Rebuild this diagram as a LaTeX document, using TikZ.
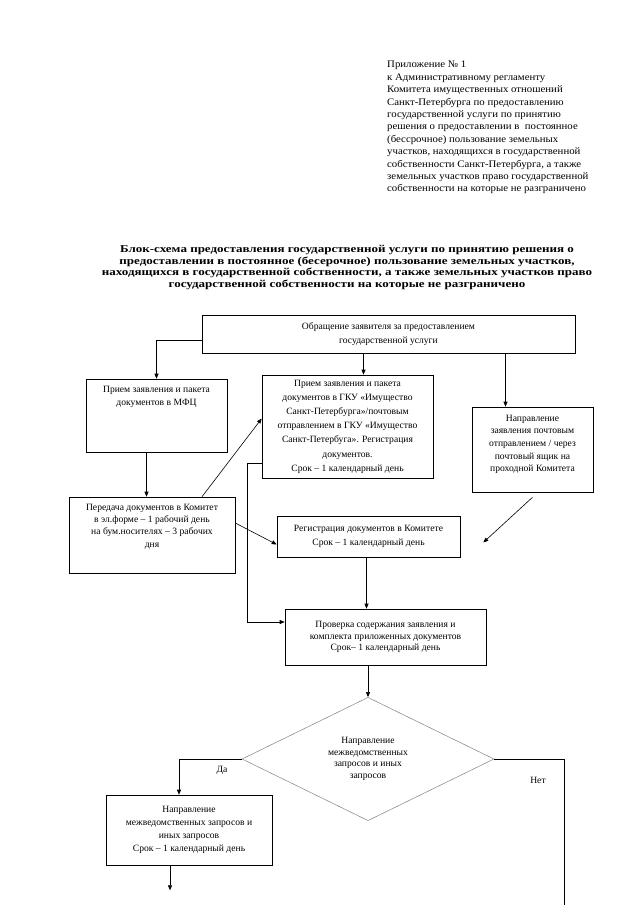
\documentclass[tikz,border=0pt]{standalone}
\usepackage{fontspec}
\setmainfont{Liberation Serif}
\newfontfamily\hdrfont[FakeStretch=1.08]{Liberation Serif}
\newfontfamily\ttlfont[FakeStretch=1.24]{Liberation Serif}
\usetikzlibrary{arrows.meta,shapes.geometric,calc}

% box with its text set from the top
\newcommand{\celltop}[4]{\parbox[c][#2][t]{#1}{\centering\vspace*{#3}#4}}

\begin{document}
\begin{tikzpicture}[x=1pt,y=1pt,
  blk/.style={draw, line width=0.6pt, inner sep=0pt, align=center, font=\fontsize{9.6}{#1}\selectfont},
  blk/.default=13.5,
  arr/.style={-{Triangle[length=5pt,width=4pt]}, line width=0.6pt},
  lin/.style={line width=0.6pt}]
\useasboundingbox (0,0) rectangle (640,-905);

% heading
\node [anchor=north west, align=left, inner sep=0pt, font=\hdrfont\fontsize{10}{12.4}\selectfont] (app) at (387,-61) {Приложение № 1\\
к Административному регламенту\\
Комитета имущественных отношений\\
Санкт-Петербурга по предоставлению\\
государственной услуги по принятию\\
решения о предоставлении в \ постоянное\\
(бессрочное) пользование земельных\\
участков, находящихся в государственной\\
собственности Санкт-Петербурга, а также\\
земельных участков право государственной\\
собственности на которые не разграничено};
\node [anchor=north, align=center, inner sep=0pt, font=\ttlfont\fontsize{10.5}{11.7}\selectfont\bfseries] (title) at (347,-245) {Блок-схема предоставления государственной услуги по принятию решения о\\
предоставлении в постоянное (бесерочное) пользование земельных участков,\\
находящихся в государственной собственности, а также земельных участков право\\
государственной собственности на которые не разграничено};

% boxes
\node [blk=13.3, minimum width=373pt, minimum height=38pt] (obr) at (388.5,-334) {Обращение заявителя за предоставлением\\государственной услуги};
\node [blk] (mfc) at (156.5,-415.5) {\celltop{141pt}{73pt}{7pt}{Прием заявления и пакета\\документов в МФЦ}};
\node [blk=14.2, minimum width=171pt, minimum height=103pt] (gku) at (347.5,-426.5) {Прием заявления и пакета\\документов в ГКУ «Имущество\\Санкт-Петербурга»/почтовым\\отправлением в ГКУ «Имущество\\Санкт-Петербуга». Регистрация\\документов.\\Срок – 1 календарный день};
\node [blk=12.6] (post) at (532.5,-449.5) {\celltop{121pt}{85pt}{8pt}{Направление\\заявления почтовым\\отправлением / через\\почтовый ящик на\\проходной Комитета}};
\node [blk=12.3] (pered) at (152,-535) {\celltop{166pt}{76pt}{7pt}{Передача документов в Комитет\\в эл.форме – 1 рабочий день\\на бум.носителях – 3 рабочих\\дня}};
\node [blk=13.3, minimum width=183pt, minimum height=41pt] (reg) at (368.5,-536.5) {Регистрация документов в Комитете\\Срок – 1 календарный день};
\node [blk=11.7, minimum width=201pt, minimum height=56pt] (prov) at (385.5,-637) {Проверка содержания заявления и\\комплекта приложенных документов\\Срок– 1 календарный день};
\node [draw=gray, line width=0.5pt, diamond, minimum width=252pt, minimum height=113pt, inner sep=0pt, align=center, font=\fontsize{9.6}{11.7}\selectfont] (zap) at (368,-759) {Направление\\межведомственных\\запросов и иных\\запросов};
\node [blk=13, minimum width=166pt, minimum height=70pt] (yes) at (189,-830) {Направление\\межведомственных запросов и\\иных запросов\\Срок – 1 календарный день};

% labels
\node [font=\fontsize{9.6}{11}\selectfont] (da) at (222,-770) {Да};
\node [font=\fontsize{9.6}{11}\selectfont] (net) at (538,-780) {Нет};

% connectors
\coordinate (regr) at ($(reg.east)+(23,-6)$);
\coordinate (yesend) at ($(yes.south)+(-19,-25)$);
\coordinate (noend) at (564,-905);
\draw [arr] ([yshift=-6pt]obr.west) -| (mfc.north);
\draw [arr] ([xshift=16pt]gku.north |- obr.south) -- ([xshift=16pt]gku.north);
\draw [arr] ([xshift=-27pt]post.north |- obr.south) -- ([xshift=-27pt]post.north);
\draw [arr] ([xshift=-10pt]mfc.south) -- ([xshift=-10pt]mfc.south |- pered.north);
\draw [arr] ([xshift=50pt]pered.north) -- ([yshift=8pt]gku.west);
\draw [arr] ([yshift=12pt]pered.east) -- ([yshift=-8pt]reg.west);
\draw [arr] ([yshift=-5pt]post.south) -- (regr);
\draw [arr] ([yshift=-37pt]gku.west) -- ++(-14,0) |- ([yshift=15pt]prov.west);
\draw [arr] ([xshift=-2pt]reg.south) -- ([xshift=-2pt]reg.south |- prov.north);
\draw [arr] (zap.north |- prov.south) -- (zap.north);
\draw [arr] (zap.west) -| ([xshift=-10pt]yes.north);
\draw [arr] ([xshift=-19pt]yes.south) -- (yesend);
\draw [lin] (zap.east) -| (noend);
\end{tikzpicture}
\end{document}
